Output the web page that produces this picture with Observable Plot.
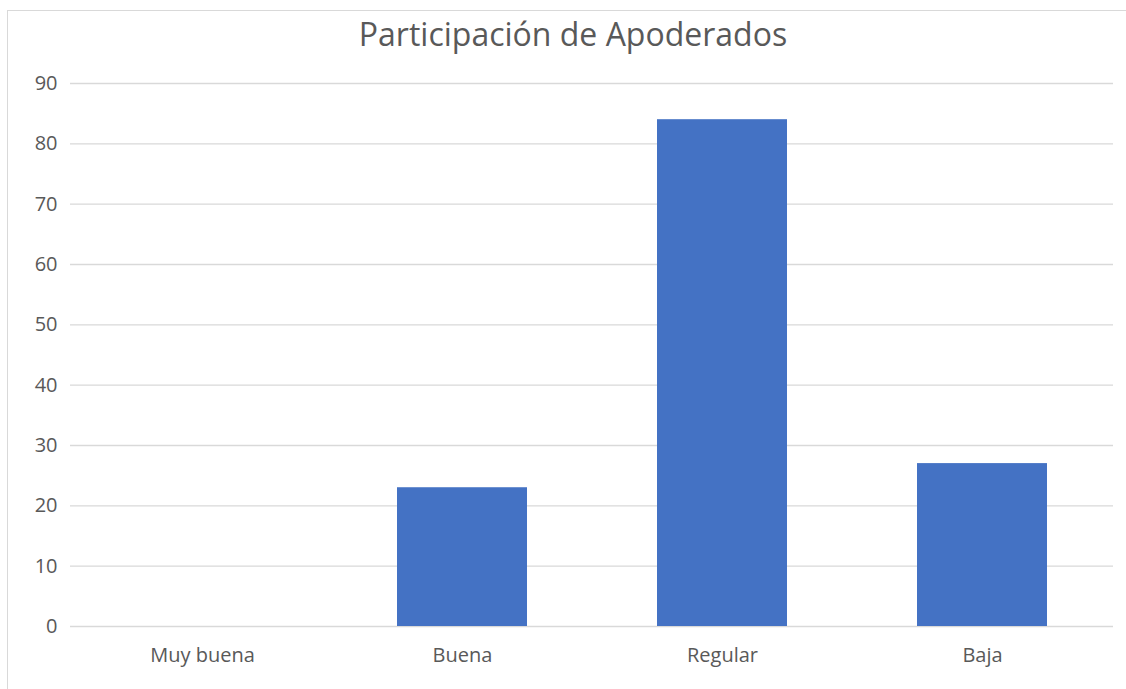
<!DOCTYPE html>
<html>
<head>
<meta charset="utf-8">
<script src="https://cdn.jsdelivr.net/npm/d3@7"></script>
<script src="https://cdn.jsdelivr.net/npm/@observablehq/plot@0.6"></script>
<style>
  html, body { margin: 0; padding: 0; background: #fff; }
  #wrap { position: relative; width: 1126px; height: 689px; overflow: hidden; font-family: "Open Sans", sans-serif; }
  #frame { position: absolute; left: 7px; top: 10px; width: 1130px; height: 700px; border: 1px solid #d9d9d9; box-sizing: border-box; }
  #title { position: absolute; left: 0; top: 0; width: 1146px; height: 60px; line-height: 68px; text-align: center; font-size: 32px; color: #595959; }
  #chart { position: absolute; left: 0; top: 60px; }
</style>
</head>
<body>
<div id="wrap">
  <div id="frame"></div>
  <div id="title">Participación de Apoderados</div>
  <div id="chart"></div>
</div>
<script>
const categories = ["Muy buena", "Buena", "Regular", "Baja"];
const values = [0, 23, 84, 27];
const yTicks = [0, 10, 20, 30, 40, 50, 60, 70, 80, 90];

const data = categories.map((c, i) => ({category: c, value: values[i]}));

const chart = Plot.plot({
  width: 1126,
  height: 629,
  marginTop: 23,
  marginBottom: 63,
  marginLeft: 70,
  marginRight: 13,
  style: {fontFamily: "Open Sans, sans-serif", fontSize: "20px", color: "#595959", background: "transparent"},
  x: {domain: categories, paddingInner: 0.5, paddingOuter: 0.25, label: null},
  y: {domain: [0, 90], ticks: yTicks, label: null},
  marks: [
    Plot.gridY(yTicks, {stroke: "#d9d9d9", strokeOpacity: 1, strokeWidth: 1.3}),
    Plot.barY(data, {x: "category", y: "value", fill: "#4472C4"}),
    Plot.axisY({ticks: yTicks, tickSize: 0, tickPadding: 13, fontSize: 20, fill: "#595959", label: null}),
    Plot.axisX({tickSize: 0, tickPadding: 21, fontSize: 20, fill: "#595959", label: null})
  ]
});
document.getElementById("chart").appendChild(chart);
</script>
</body>
</html>
